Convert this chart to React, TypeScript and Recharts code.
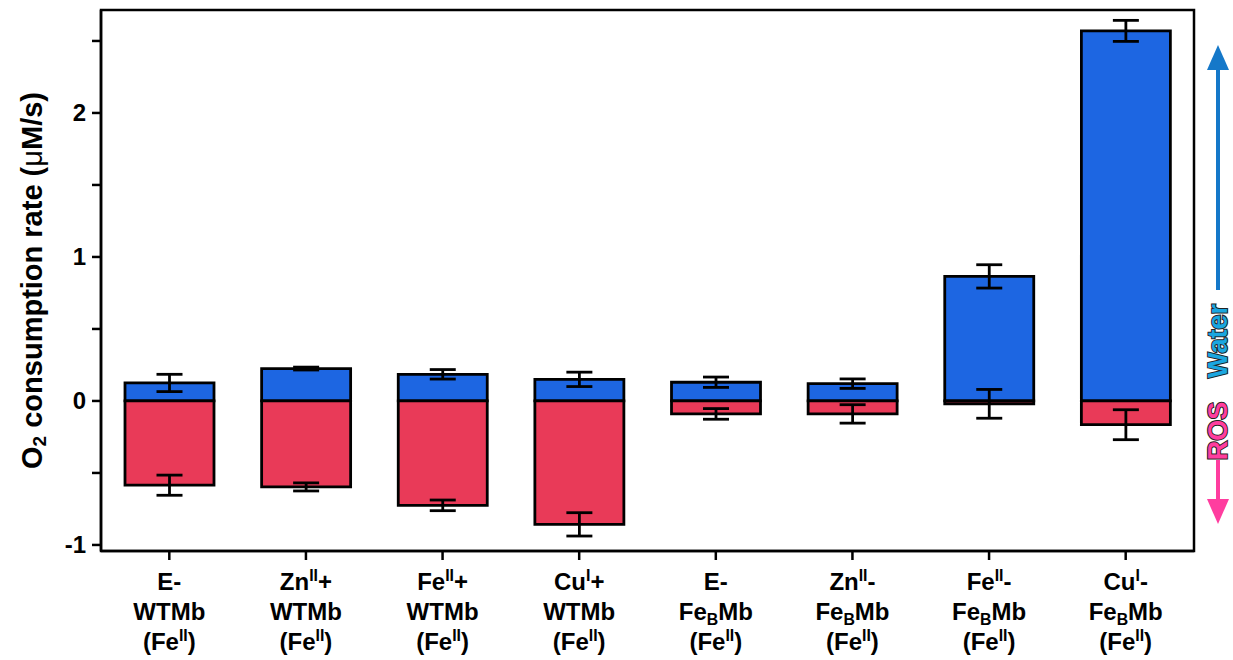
import React from 'react';
import { BarChart, Bar, XAxis, YAxis, ErrorBar, ReferenceArea } from 'recharts';

// category labels: "|" splits lines, ^ = superscript, _ = subscript
const categories = [
  'E-|WTMb|(Fe^II)',
  'Zn^II+|WTMb|(Fe^II)',
  'Fe^II+|WTMb|(Fe^II)',
  'Cu^I+|WTMb|(Fe^II)',
  'E-|Fe_BMb|(Fe^II)',
  'Zn^II-|Fe_BMb|(Fe^II)',
  'Fe^II-|Fe_BMb|(Fe^II)',
  'Cu^I-|Fe_BMb|(Fe^II)',
];

// O2 consumption going to water (positive) and ROS (negative), µM/s
const water = [0.125, 0.225, 0.185, 0.15, 0.13, 0.12, 0.865, 2.57];
const waterErr = [0.06, 0.01, 0.033, 0.05, 0.036, 0.033, 0.081, 0.073];
const ros = [-0.585, -0.597, -0.725, -0.857, -0.09, -0.09, -0.02, -0.165];
const rosErr = [0.07, 0.028, 0.037, 0.081, 0.037, 0.064, 0.1, 0.104];

const yTicks = [-1, -0.5, 0, 0.5, 1, 1.5, 2, 2.5];

const data = categories.map((name, i) => ({
  name,
  water: water[i],
  waterErr: waterErr[i],
  ros: ros[i],
  rosErr: rosErr[i],
}));

const FONT = '"Liberation Sans", Arial, sans-serif';
const BLUE = '#1d66e2';
const RED = '#e93a58';

// turn "Fe^II" / "Fe_BMb" into tspans
function rich(s: string, fs: number) {
  const parts = s.split(/(\^[IV]+|_[A-Z])/).filter(Boolean);
  let shift = 0;
  return parts.map((p, i) => {
    let target = 0;
    let txt = p;
    let size = fs;
    if (p[0] === '^') {
      target = -fs * 0.38;
      txt = p.slice(1);
      size = fs * 0.66;
    } else if (p[0] === '_') {
      target = fs * 0.2;
      txt = p.slice(1);
      size = fs * 0.66;
    }
    const dy = target - shift;
    shift = target;
    return (
      <tspan key={i} dy={dy} fontSize={size}>
        {txt}
      </tspan>
    );
  });
}

const XTick = (props: any) => {
  const { x, y, payload } = props;
  const lines = String(payload.value).split('|');
  return (
    <g>
      {lines.map((l, i) => (
        <text
          key={i}
          x={x}
          y={y + 28 + i * 30}
          textAnchor="middle"
          fontFamily={FONT}
          fontWeight="bold"
          fontSize={24}
          fill="#000"
        >
          {rich(l, 24)}
        </text>
      ))}
    </g>
  );
};

const YLabel = (props: any) => {
  const vb = props.viewBox || { x: 0, y: 10, width: 101, height: 541 };
  const cx = vb.x + 32;
  const cy = vb.y + vb.height / 2;
  return (
    <text
      x={cx}
      y={cy}
      transform={`rotate(-90 ${cx} ${cy})`}
      textAnchor="middle"
      dominantBaseline="central"
      fontFamily={FONT}
      fontWeight="bold"
      fontSize={29}
      fill="#000"
    >
      O<tspan fontSize={19} dy={7}>2</tspan>
      <tspan dy={-7}> consumption rate (</tspan>
      <tspan fontWeight="normal">μ</tspan>M/s)
    </text>
  );
};

export default function App() {
  return (
    <div style={{ position: 'absolute', left: 0, top: 0, width: 1233, height: 660, background: '#fff' }}>
      <BarChart
        width={1233}
        height={660}
        data={data}
        stackOffset="sign"
        margin={{ top: 10, right: 39, left: 0, bottom: 0 }}
      >
        <XAxis
          dataKey="name"
          height={109}
          axisLine={{ stroke: '#000', strokeWidth: 2.5 }}
          tickLine={{ stroke: '#000', strokeWidth: 2.5 }}
          tickSize={9}
          interval={0}
          tick={<XTick />}
        />
        <YAxis
          width={101}
          type="number"
          domain={[-1.042, 2.715]}
          ticks={yTicks}
          allowDataOverflow
          tickFormatter={(v: number) => (Number.isInteger(v) ? String(v) : '')}
          axisLine={{ stroke: '#000', strokeWidth: 2.5 }}
          tickLine={{ stroke: '#000', strokeWidth: 2.5 }}
          tickSize={9}
          tickMargin={6}
          tick={{ fill: '#000', fontSize: 24, fontWeight: 'bold', fontFamily: FONT }}
          label={{ content: YLabel }}
        />
        <ReferenceArea y1={-1.042} y2={2.715} fill="none" stroke="#000" strokeWidth={2.5} ifOverflow="visible" />
        <Bar dataKey="water" stackId="s" fill={BLUE} stroke="#000" strokeWidth={2.8} barSize={89} isAnimationActive={false}>
          <ErrorBar dataKey="waterErr" width={13} stroke="#000" strokeWidth={2.8} />
        </Bar>
        <Bar dataKey="ros" stackId="s" fill={RED} stroke="#000" strokeWidth={2.8} barSize={89} isAnimationActive={false}>
          <ErrorBar dataKey="rosErr" width={13} stroke="#000" strokeWidth={2.8} />
        </Bar>
      </BarChart>
      {/* direction arrows on the right */}
      <svg width={1233} height={660} style={{ position: 'absolute', left: 0, top: 0, pointerEvents: 'none' }}>
        <line x1={1218} y1={290} x2={1218} y2={66} stroke="#1578c9" strokeWidth={4} />
        <polygon points="1218,45 1207,70 1229,70" fill="#1578c9" />
        <text
          x={1218}
          y={341}
          transform="rotate(-90 1218 341)"
          textAnchor="middle"
          dominantBaseline="central"
          fontFamily={FONT}
          fontWeight="bold"
          fontSize={27}
          fill="#1aa6e0"
          stroke="#222"
          strokeWidth={2}
          paintOrder="stroke"
        >
          Water
        </text>
        <text
          x={1218}
          y={431}
          transform="rotate(-90 1218 431)"
          textAnchor="middle"
          dominantBaseline="central"
          fontFamily={FONT}
          fontWeight="bold"
          fontSize={27}
          fill="#ff3d9f"
          stroke="#222"
          strokeWidth={2}
          paintOrder="stroke"
        >
          ROS
        </text>
        <line x1={1218} y1={460} x2={1218} y2={503} stroke="#ff3d9f" strokeWidth={4} />
        <polygon points="1218,524 1207,499 1229,499" fill="#ff3d9f" />
      </svg>
    </div>
  );
}
